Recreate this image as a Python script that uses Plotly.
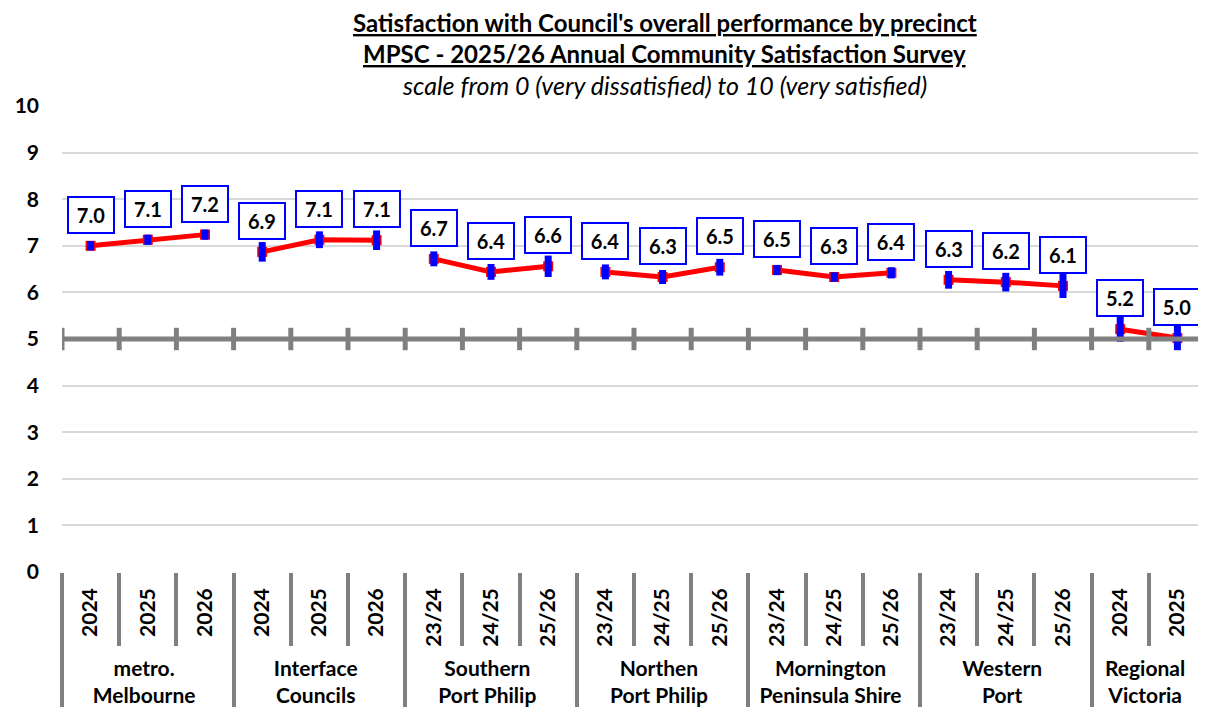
import plotly.graph_objects as go

# precinct groups and the survey periods within each
groups = [
    "metro.<br>Melbourne",
    "Interface<br>Councils",
    "Southern<br>Port Philip",
    "Northen<br>Port Philip",
    "Mornington<br>Peninsula Shire",
    "Western<br>Port",
    "Regional<br>Victoria",
]
periods = [
    ["2024", "2025", "2026"],
    ["2024", "2025", "2026"],
    ["23/24", "24/25", "25/26"],
    ["23/24", "24/25", "25/26"],
    ["23/24", "24/25", "25/26"],
    ["23/24", "24/25", "25/26"],
    ["2024", "2025"],
]

# mean satisfaction scores
scores = [
    [7.00, 7.13, 7.24],
    [6.87, 7.13, 7.12],
    [6.72, 6.44, 6.56],
    [6.44, 6.33, 6.54],
    [6.48, 6.33, 6.42],
    [6.27, 6.22, 6.14],
    [5.21, 5.02],
]

# half-width of the confidence interval
ci = [
    [0.10, 0.11, 0.11],
    [0.21, 0.18, 0.21],
    [0.16, 0.17, 0.23],
    [0.16, 0.15, 0.18],
    [0.11, 0.10, 0.12],
    [0.19, 0.20, 0.26],
    [0.27, 0.26],
]

benchmark = 5

FONT = "Lato"
GREY = "#808080"

fig = go.Figure()

n_total = sum(len(p) for p in periods)

# benchmark line at 5 with tick marks at the category boundaries
bounds = [k - 0.5 for k in range(n_total + 1)]
fig.add_trace(
    go.Scatter(
        x=bounds,
        y=[benchmark] * len(bounds),
        xaxis="x2",
        yaxis="y",
        mode="lines+markers",
        line=dict(color=GREY, width=5),
        marker=dict(symbol="line-ns", size=16, line=dict(color=GREY, width=5)),
        showlegend=False,
        hoverinfo="skip",
    )
)

idx = 0
annotations = []
for g, per, sc, err in zip(groups, periods, scores, ci):
    x = [[g] * len(per), per]
    fig.add_trace(
        go.Scatter(
            x=x,
            y=sc,
            mode="lines+markers",
            line=dict(color="#ff0000", width=5),
            marker=dict(symbol="square", size=10, color="#ff0000"),
            showlegend=False,
            hoverinfo="skip",
        )
    )
    fig.add_trace(
        go.Scatter(
            x=x,
            y=sc,
            mode="markers",
            marker=dict(size=1, color="rgba(0,0,0,0)"),
            error_y=dict(
                type="data", array=err, color="#0000ff", thickness=7, width=0
            ),
            showlegend=False,
        )
    )
    for v in sc:
        annotations.append(
            dict(
                x=idx,
                y=v,
                xref="x2",
                yref="y",
                text=f"<b>{v:.1f}</b>",
                showarrow=False,
                yshift=31,
                width=34,
                height=24,
                font=dict(family=FONT, size=20, color="black"),
                bgcolor="white",
                bordercolor="#0000ff",
                borderwidth=2,
                borderpad=5,
            )
        )
        idx += 1

title_lines = [
    ("<u><b>Satisfaction with Council's overall performance by precinct</b></u>", 1.180, 24),
    ("<u><b>MPSC - 2025/26 Annual Community Satisfaction Survey</b></u>", 1.113, 24),
    ("<i>scale from 0 (very dissatisfied) to 10 (very satisfied)</i>", 1.045, 25),
]
for text, y, size in title_lines:
    annotations.append(
        dict(
            x=0.527,
            y=y,
            xref="paper",
            yref="paper",
            text=text,
            showarrow=False,
            font=dict(family=FONT, size=size, color="black"),
            xanchor="center",
            yanchor="middle",
        )
    )

# the page body adds an 8px offset, so the figure is 8px smaller than the window
fig.update_layout(
    width=1198,
    height=707,
    margin=dict(l=54, r=0, t=98, b=143),
    plot_bgcolor="white",
    paper_bgcolor="white",
    font=dict(family=FONT, color="black"),
    annotations=annotations,
    xaxis=dict(
        type="multicategory",
        range=[-0.5, n_total - 0.5],
        showgrid=False,
        showline=False,
        zeroline=False,
        tickangle=-90,
        tickfont=dict(family=FONT, size=21, weight="bold", color="black"),
        ticks="outside",
        ticklen=73,
        tickwidth=4,
        tickcolor=GREY,
        ticklabelstandoff=11,
        showdividers=True,
        dividercolor=GREY,
        dividerwidth=4,
    ),
    xaxis2=dict(
        overlaying="x",
        range=[-0.5, n_total - 0.5],
        visible=False,
    ),
    yaxis=dict(
        range=[0, 10],
        dtick=1,
        showgrid=True,
        gridcolor="#d9d9d9",
        gridwidth=1.5,
        zeroline=False,
        showline=False,
        tickfont=dict(family=FONT, size=21, weight="bold", color="black"),
        ticks="",
        ticklabelstandoff=22,
    ),
)

fig.write_html("out.html")
